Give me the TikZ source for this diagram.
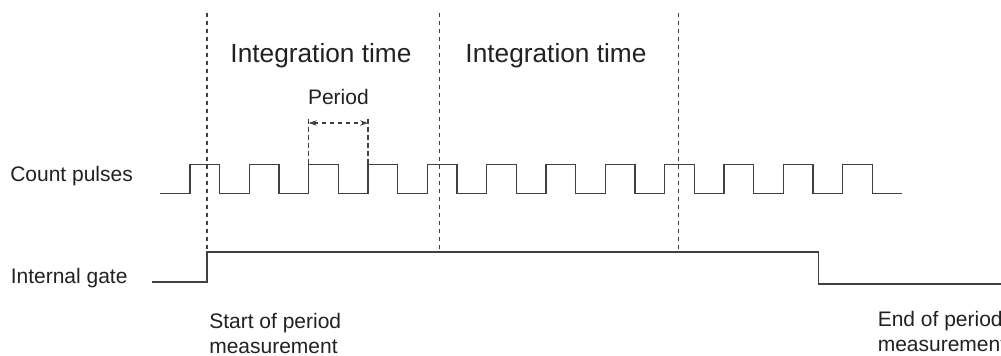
\documentclass[tikz,border=0pt]{standalone}
\usepackage{fontspec}
\setmainfont{Liberation Sans}
\usepackage{xcolor}
\usepackage{tikz}
\usetikzlibrary{arrows.meta}
\definecolor{sigcol}{gray}{0.25}
\definecolor{txtcol}{gray}{0.13}
\tikzset{
    Signal/.style = {draw=sigcol,line width=1.1pt},
    Marker/.style = {draw=sigcol,line width=0.8pt,dash pattern=on 3.6pt off 2.4pt},
    Label/.style = {text=txtcol,inner sep=0pt,font=\fontsize{15.75}{18.75}\selectfont},
    BigLabel/.style = {text=txtcol,inner sep=0pt,font=\fontsize{19.7}{24}\selectfont}
}
\begin{document}
\begin{tikzpicture}[x=0.75pt,y=-0.75pt]
        \useasboundingbox (0,0) rectangle (1001,356);
        \clip (0,0) rectangle (1001,356);
        % labels
        \node[BigLabel,anchor=base] (int1) at (321,62.7) {Integration time};
        \node[BigLabel,anchor=base] (int2) at (556,62.7) {Integration time};
        \node[Label,anchor=base] (per) at (338.4,105) {Period};
        \node[Label,anchor=base west] (cnt) at (10,181.7) {Count pulses};
        \node[Label,anchor=base west] (gate) at (10.5,283.3) {Internal gate};
        \node[Label,anchor=base west,align=left] (start) at (209,353.3) {Start of period\\measurement};
        \node[Label,anchor=base west,align=left] (stop) at (877.5,352) {End of period\\measurement};
        % integration boundaries
        \foreach \X in {207,439.3,678.3}
            {\draw[Marker] (\X,12.7) -- (\X,252);}
        % period marker
        \foreach \X in {308.7,368}
            {\draw[Marker] (\X,119) -- (\X,164.5);}
        \draw[Marker,{Stealth[length=6pt,width=4pt]}-{Stealth[length=6pt,width=4pt]}] (308.7,123) -- (368,123);
        % count pulses
        \draw[Signal] (160,193.5) -- (190,193.5)
            \foreach \k in {0,...,11}
            { -- ++(0,-29) -- ++(29.67,0) -- ++(0,29) -- ++(29.67,0) };
        % internal gate
        \draw[Signal] (152,282) -- (207,282) -- (207,252) -- (818.3,252) -- (818.3,284) -- (1001,284);
        \end{tikzpicture}
\end{document}
